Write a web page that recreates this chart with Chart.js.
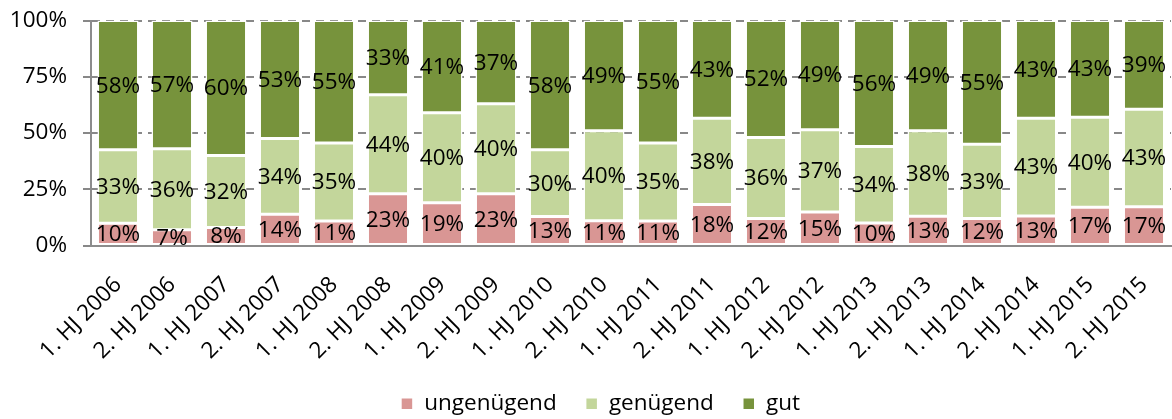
<!DOCTYPE html>
<html>
<head>
<meta charset="utf-8">
<script src="https://cdn.jsdelivr.net/npm/chart.js@4/dist/chart.umd.min.js"></script>
<style>
  html, body { margin: 0; padding: 0; background: #fff; }
  #wrap { width: 1172px; height: 419px; }
</style>
</head>
<body>
<div id="wrap"><canvas id="myChart" width="1172" height="419"></canvas></div>
<script>
// half-years
var labels = ['1. HJ 2006', '2. HJ 2006', '1. HJ 2007', '2. HJ 2007', '1. HJ 2008',
  '2. HJ 2008', '1. HJ 2009', '2. HJ 2009', '1. HJ 2010', '2. HJ 2010',
  '1. HJ 2011', '2. HJ 2011', '1. HJ 2012', '2. HJ 2012', '1. HJ 2013',
  '2. HJ 2013', '1. HJ 2014', '2. HJ 2014', '1. HJ 2015', '2. HJ 2015'];

// shares in percent, as printed on the bars
var ungenuegend = [10, 7, 8, 14, 11, 23, 19, 23, 13, 11, 11, 18, 12, 15, 10, 13, 12, 13, 17, 17];
var genuegend = [33, 36, 32, 34, 35, 44, 40, 40, 30, 40, 35, 38, 36, 37, 34, 38, 33, 43, 40, 43];
var gut = [58, 57, 60, 53, 55, 33, 41, 37, 58, 49, 55, 43, 52, 49, 56, 49, 55, 43, 43, 39];

var yTicks = [0, 25, 50, 75, 100];

var FONT = "'Open Sans', 'Noto Sans', sans-serif";
var FS = 22.5;

// 100% stacked: each bar is scaled to its own total (like Excel does)
function asShares(arr) {
  return arr.map(function (v, i) {
    var total = ungenuegend[i] + genuegend[i] + gut[i];
    return v / total * 100;
  });
}

var raw = [ungenuegend, genuegend, gut];

// write the printed percentage in the middle of every segment
var barLabels = {
  id: 'barLabels',
  afterDatasetsDraw: function (chart) {
    var ctx = chart.ctx;
    ctx.save();
    ctx.font = FS + 'px ' + FONT;
    ctx.fillStyle = '#000';
    ctx.textAlign = 'center';
    ctx.textBaseline = 'middle';
    chart.data.datasets.forEach(function (ds, d) {
      var meta = chart.getDatasetMeta(d);
      meta.data.forEach(function (bar, i) {
        ctx.fillText(raw[d][i] + '%', bar.x, (bar.y + bar.base) / 2 + 1);
      });
    });
    ctx.restore();
  }
};

// the legend sits a bit right of the canvas centre in the original
var legendShift = {
  id: 'legendShift',
  afterLayout: function (chart) {
    chart.legend.left += 30;
  }
};

var ctx = document.getElementById('myChart').getContext('2d');
var myChart = new Chart(ctx, {
  type: 'bar',
  data: {
    labels: labels,
    datasets: [
      { label: 'ungenügend', data: asShares(ungenuegend), backgroundColor: '#D99694' },
      { label: 'genügend', data: asShares(genuegend), backgroundColor: '#C3D69B' },
      { label: 'gut', data: asShares(gut), backgroundColor: '#77933C' }
    ]
  },
  options: {
    responsive: false,
    animation: false,
    devicePixelRatio: 1,
    layout: { padding: { top: 20.5, right: 1, left: 0, bottom: -6 } },
    datasets: {
      bar: {
        barPercentage: 0.76,
        categoryPercentage: 1,
        borderColor: '#ffffff',
        borderWidth: 1.5,
        borderSkipped: false
      }
    },
    scales: {
      x: {
        stacked: true,
        grid: { display: false },
        border: { display: true, color: '#8c8c8c', width: 2 },
        ticks: {
          color: '#000',
          font: { family: FONT, size: FS },
          minRotation: 45,
          maxRotation: 45,
          autoSkip: false,
          padding: 18
        },
        afterFit: function (scale) {
          scale.height = 118;
          scale.paddingLeft = 0;
          scale.paddingRight = 0;
        }
      },
      y: {
        stacked: true,
        min: 0,
        max: 100,
        afterBuildTicks: function (scale) {
          scale.ticks = yTicks.map(function (v) { return { value: v }; });
        },
        grid: {
          color: '#888888',
          lineWidth: 2,
          tickLength: 8,
          tickColor: '#888888',
          tickBorderDash: []
        },
        border: { display: true, color: '#8c8c8c', width: 2, dash: [8, 6] },
        ticks: {
          color: '#000',
          font: { family: FONT, size: FS },
          padding: 16,
          callback: function (v) { return v + '%'; }
        },
        afterFit: function (scale) {
          scale.width = 91;
          scale.paddingTop = 0;
          scale.paddingBottom = 0;
        }
      }
    },
    plugins: {
      legend: {
        position: 'bottom',
        labels: {
          color: '#000',
          font: { family: FONT, size: FS },
          boxWidth: 12,
          boxHeight: 12,
          padding: 29
        }
      },
      tooltip: { enabled: false }
    }
  },
  plugins: [barLabels, legendShift]
});
</script>
</body>
</html>
